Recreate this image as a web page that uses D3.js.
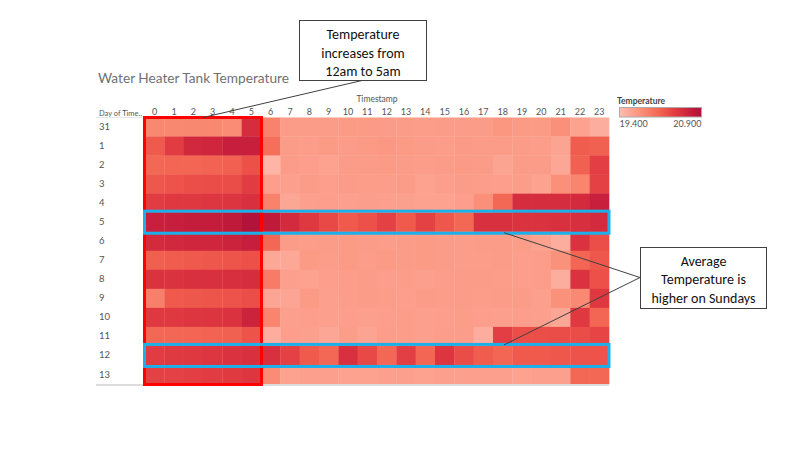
<!DOCTYPE html>
<html><head><meta charset="utf-8">
<script src="https://cdn.jsdelivr.net/npm/d3@7"></script>
<style>body{margin:0;background:#fff}svg{display:block}</style>
</head><body><svg id="c" width="800" height="450"></svg>
<script>
const days = ["31","1","2","3","4","5","6","7","8","9","10","11","12","13"];
const hours = ["0","1","2","3","4","5","6","7","8","9","10","11","12","13","14","15","16","17","18","19","20","21","22","23"];
const temperature = [
 [19.85,19.85,19.85,19.85,19.83,20.55,19.9,19.69,19.69,19.69,19.7,19.7,19.69,19.69,19.68,19.69,19.69,19.69,19.74,19.7,19.7,19.79,19.64,19.54],
 [20.2,20.42,20.6,20.62,20.7,20.68,20.05,19.69,19.68,19.7,19.69,19.7,19.72,19.7,19.69,19.68,19.7,19.69,19.69,19.69,19.68,19.62,20.18,20.15],
 [20.1,20.12,20.12,20.14,20.16,20.27,19.48,19.69,19.67,19.64,19.69,19.69,19.7,19.69,19.68,19.69,19.7,19.69,19.62,19.69,19.69,19.6,20.15,20.4],
 [20.22,20.25,20.28,20.3,20.3,20.42,19.67,19.66,19.69,19.67,19.69,19.68,19.68,19.69,19.64,19.67,19.69,19.68,19.67,19.68,19.64,19.79,19.87,20.38],
 [20.42,20.45,20.45,20.47,20.48,20.52,19.9,19.6,19.66,19.67,19.66,19.67,19.66,19.65,19.64,19.64,19.67,19.79,20.1,20.55,20.55,20.56,20.58,20.68],
 [20.68,20.7,20.72,20.72,20.75,20.88,20.75,20.58,20.45,20.32,20.2,20.27,20.38,20.2,20.38,20.22,20.1,20.52,20.52,20.5,20.5,20.52,20.53,20.58],
 [20.58,20.6,20.62,20.62,20.65,20.7,20.1,19.69,19.68,19.69,19.7,19.69,19.68,19.69,19.7,19.69,19.68,19.69,19.69,19.68,19.64,19.54,20.5,20.28],
 [20.17,20.18,20.2,20.22,20.24,20.27,19.59,19.59,19.7,19.68,19.7,19.68,19.7,19.69,19.7,19.69,19.68,19.68,19.69,19.67,19.68,19.78,20.12,20.22],
 [20.5,20.5,20.52,20.52,20.53,20.55,19.95,19.66,19.64,19.67,19.68,19.69,19.67,19.68,19.66,19.68,19.69,19.69,19.68,19.67,19.68,19.54,20.5,20.27],
 [19.92,20.2,20.22,20.24,20.25,20.28,19.61,19.61,19.7,19.66,19.68,19.69,19.68,19.67,19.69,19.68,19.69,19.68,19.69,19.69,19.66,19.78,19.84,20.45],
 [20.45,20.45,20.47,20.48,20.5,20.65,19.87,19.66,19.67,19.66,19.67,19.66,19.67,19.68,19.66,19.67,19.68,19.67,19.66,19.67,19.66,19.6,20.45,20.12],
 [20.1,20.1,20.12,20.14,20.15,20.25,19.54,19.67,19.66,19.6,19.68,19.62,19.68,19.68,19.66,19.68,19.68,19.54,20.4,20.28,20.28,20.3,20.3,20.35],
 [20.42,20.44,20.45,20.47,20.5,20.52,20.52,20.38,20.2,20.1,20.52,20.32,20.1,20.4,20.12,20.48,20.3,20.18,20.12,20.2,20.2,20.22,20.25,20.25],
 [20.38,20.38,20.4,20.42,20.44,20.47,19.82,19.64,19.66,19.66,19.64,19.64,19.66,19.66,19.64,19.66,19.66,19.66,19.66,19.64,19.66,19.66,20.1,20.1]
];
const legendTicks = [19.4, 20.9];
const palette = ["#ffbeb2","#feb4a6","#fdab9b","#fca290","#fb9984","#fa8f79","#f9856e","#f77b66","#f5715d","#f36754","#f05c4d","#ec5049","#e74545","#e13b42","#da323f","#d3293d","#ca223c","#c11a3b","#b8163a","#ae123a"];

const svg = d3.select("#c");
const x = d3.scaleBand().domain(hours).range([145, 609]);
const y = d3.scaleBand().domain(days).range([117.5, 384]);
const color = d3.scaleSequential(d3.interpolateRgbBasis(palette)).domain(legendTicks).clamp(true);
const font = "Lato, 'Open Sans', sans-serif";

function fit(sel, size, width) {
  const w = sel.node().getComputedTextLength();
  sel.style("font-size", (size * width / w).toFixed(2) + "px");
}

// title
const title = svg.append("text").attr("x", 98).attr("y", 83).attr("fill", "#707070")
  .style("font-family", font).style("font-size", "15px").text("Water Heater Tank Temperature");
fit(title, 15, 191);

// cells
const cells = [];
days.forEach((d, i) => hours.forEach((h, j) => cells.push({d, h, v: temperature[i][j]})));
svg.append("g").selectAll("rect").data(cells).join("rect")
  .attr("x", c => x(c.h)).attr("y", c => y(c.d))
  .attr("width", x.bandwidth() + 0.3).attr("height", y.bandwidth() + 0.3)
  .attr("fill", c => color(c.v));

// axes
const xa = svg.append("g").attr("transform", "translate(0,116)")
  .call(d3.axisTop(x).tickSize(0).tickPadding(1));
xa.select(".domain").remove();
xa.selectAll("text").attr("fill", "#555").style("font-family", font).style("font-size", "9px");

const ya = svg.append("g").attr("transform", "translate(99,0)")
  .call(d3.axisLeft(y).tickSize(0));
ya.select(".domain").remove();
ya.selectAll("text").attr("text-anchor", "start").attr("x", 0).attr("fill", "#555")
  .style("font-family", font).style("font-size", "9.5px");

const dh = svg.append("text").attr("x", 99).attr("y", 115.5).attr("fill", "#555")
  .style("font-family", font).style("font-size", "8px").text("Day of Time..");
fit(dh, 8, 43);
svg.append("line").attr("x1", 96).attr("x2", 143).attr("y1", 117.5).attr("y2", 117.5)
  .attr("stroke", "#e4e4e4").attr("stroke-width", 1);
svg.append("text").attr("x", (x.range()[0] + x.range()[1]) / 2).attr("y", 102).attr("text-anchor", "middle")
  .attr("fill", "#555").style("font-family", font).style("font-size", "8.5px").text("Timestamp");

svg.append("line").attr("x1", 96).attr("x2", 609).attr("y1", 385).attr("y2", 385)
  .attr("stroke", "#ddd").attr("stroke-width", 2);

// legend
const defs = svg.append("defs");
const grad = defs.append("linearGradient").attr("id", "lg");
palette.forEach((p, i) => grad.append("stop").attr("offset", (i / (palette.length - 1))).attr("stop-color", p));
svg.append("text").attr("x", 617).attr("y", 104).attr("fill", "#444").style("font-family", font)
  .style("font-size", "8.5px").style("font-weight", "bold").text("Temperature");
svg.append("rect").attr("x", 619.5).attr("y", 107.5).attr("width", 82).attr("height", 9.5)
  .attr("fill", "url(#lg)").attr("stroke", "#aaa").attr("stroke-width", 1);
const lx = d3.scaleLinear().domain(legendTicks).range([619.5, 701.5]);
svg.append("g").selectAll("text").data(legendTicks).join("text")
  .attr("x", d => lx(d)).attr("y", 127).attr("text-anchor", (d, i) => i ? "end" : "start")
  .attr("fill", "#555").style("font-family", font).style("font-size", "9px").text(d => d.toFixed(3));

// highlight boxes
svg.append("rect").attr("x", 144.5).attr("y", 117.5).attr("width", 117).attr("height", 267)
  .attr("fill", "none").attr("stroke", "#ff0000").attr("stroke-width", 3);
["5", "12"].forEach(d => {
  svg.append("rect").attr("x", 144.5).attr("y", y(d) - 1.5).attr("width", 464.5).attr("height", y.bandwidth() + 3)
    .attr("fill", "none").attr("stroke", "#1cb0ea").attr("stroke-width", 3);
});

// callouts
const cf = "Carlito, 'Open Sans', sans-serif";
svg.append("line").attr("x1", 362).attr("y1", 80.5).attr("x2", 203).attr("y2", 117.5).attr("stroke", "#404040").attr("stroke-width", 1);
svg.append("rect").attr("x", 299.5).attr("y", 20.5).attr("width", 127).attr("height", 60)
  .attr("fill", "#fff").attr("stroke", "#404040").attr("stroke-width", 1);
["Temperature", "increases from", "12am to 5am"].forEach((t, i) =>
  svg.append("text").attr("x", 363).attr("y", 39 + i * 18.5).attr("text-anchor", "middle").attr("fill", "#111")
    .style("font-family", cf).style("font-size", "14px").text(t));

svg.append("line").attr("x1", 640).attr("y1", 277.5).attr("x2", 504).attr("y2", y("5") + y.bandwidth() + 1).attr("stroke", "#404040").attr("stroke-width", 1);
svg.append("line").attr("x1", 640).attr("y1", 277.5).attr("x2", 504).attr("y2", y("12") - 1).attr("stroke", "#404040").attr("stroke-width", 1);
svg.append("rect").attr("x", 640.5).attr("y", 247.5).attr("width", 126).attr("height", 61)
  .attr("fill", "#fff").attr("stroke", "#404040").attr("stroke-width", 1);
["Average", "Temperature is", "higher on Sundays"].forEach((t, i) =>
  svg.append("text").attr("x", 703.5).attr("y", 265.5 + i * 18.5).attr("text-anchor", "middle").attr("fill", "#111")
    .style("font-family", cf).style("font-size", "14px").text(t));
</script></body></html>
